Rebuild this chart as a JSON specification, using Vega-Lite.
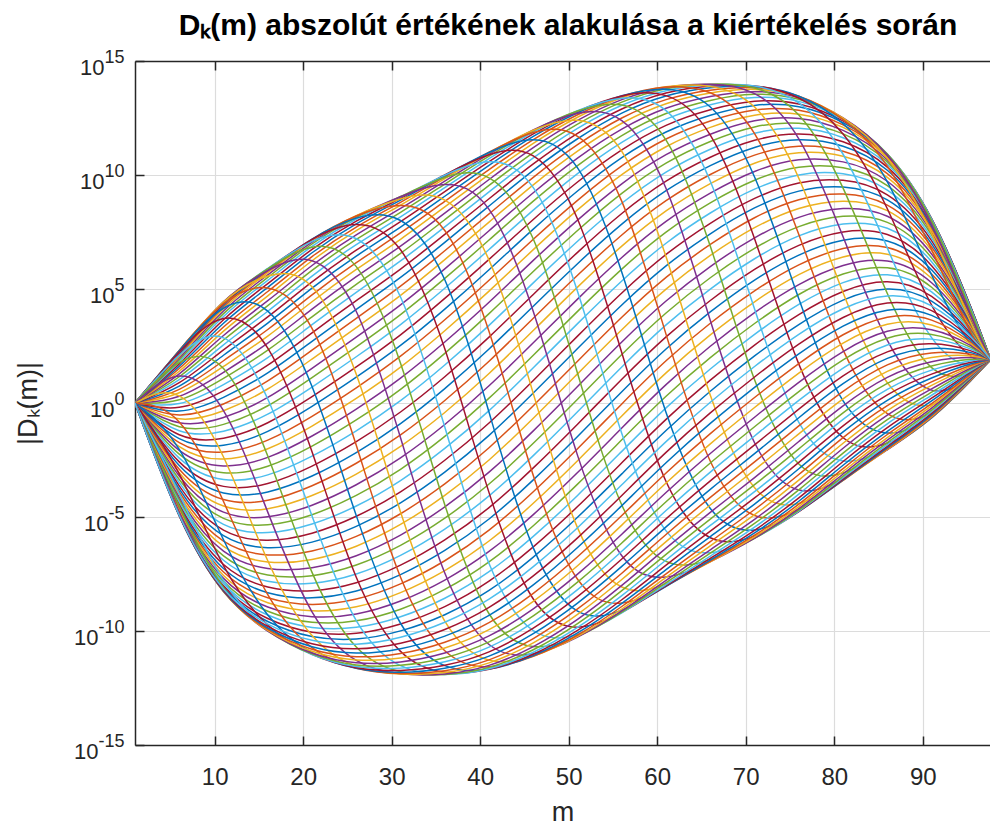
{
"$schema": "https://vega.github.io/schema/vega-lite/v6.json",
"width": 855,
"height": 684,
"autosize": {"type": "none"},
"padding": {"left": 135, "top": 61, "right": 0, "bottom": 82},
"background": "#ffffff",
"config": {"view": {"stroke": null}, "axis": {"labelFont": "Liberation Sans", "titleFont": "Liberation Sans"}},
"layer": [
{
"data": {"values": [
{"k":0,"m":1,"logD":0},{"k":1,"m":1,"logD":0},{"k":2,"m":1,"logD":0},{"k":3,"m":1,"logD":0},{"k":4,"m":1,"logD":0},{"k":5,"m":1,"logD":0},{"k":6,"m":1,"logD":0},{"k":7,"m":1,"logD":0},{"k":8,"m":1,"logD":0},{"k":9,"m":1,"logD":0},{"k":10,"m":1,"logD":0},{"k":11,"m":1,"logD":0},{"k":12,"m":1,"logD":0},{"k":13,"m":1,"logD":0},{"k":14,"m":1,"logD":0},{"k":15,"m":1,"logD":0},{"k":16,"m":1,"logD":0},{"k":17,"m":1,"logD":0},{"k":18,"m":1,"logD":0},{"k":19,"m":1,"logD":0},{"k":20,"m":1,"logD":0},{"k":21,"m":1,"logD":0},{"k":22,"m":1,"logD":0},{"k":23,"m":1,"logD":0},{"k":24,"m":1,"logD":0},{"k":25,"m":1,"logD":0},{"k":26,"m":1,"logD":0},{"k":27,"m":1,"logD":0},{"k":28,"m":1,"logD":0},{"k":29,"m":1,"logD":0},{"k":30,"m":1,"logD":0},{"k":31,"m":1,"logD":0},{"k":32,"m":1,"logD":0},{"k":33,"m":1,"logD":0},{"k":34,"m":1,"logD":0},{"k":35,"m":1,"logD":0},{"k":36,"m":1,"logD":0},{"k":37,"m":1,"logD":0},{"k":38,"m":1,"logD":0},{"k":39,"m":1,"logD":0},{"k":40,"m":1,"logD":0},{"k":41,"m":1,"logD":0},{"k":42,"m":1,"logD":0},{"k":43,"m":1,"logD":0},{"k":44,"m":1,"logD":0},{"k":45,"m":1,"logD":0},{"k":46,"m":1,"logD":0},{"k":47,"m":1,"logD":0},{"k":48,"m":1,"logD":0},{"k":49,"m":1,"logD":0},{"k":50,"m":1,"logD":0},{"k":51,"m":1,"logD":0},{"k":52,"m":1,"logD":0},{"k":53,"m":1,"logD":0},{"k":54,"m":1,"logD":0},{"k":55,"m":1,"logD":0},{"k":56,"m":1,"logD":0},{"k":57,"m":1,"logD":0},{"k":58,"m":1,"logD":0},{"k":59,"m":1,"logD":0},{"k":60,"m":1,"logD":0},{"k":61,"m":1,"logD":0},{"k":62,"m":1,"logD":0},{"k":63,"m":1,"logD":0},{"k":64,"m":1,"logD":0},{"k":65,"m":1,"logD":0},{"k":66,"m":1,"logD":0},{"k":67,"m":1,"logD":0},{"k":68,"m":1,"logD":0},{"k":69,"m":1,"logD":0},{"k":70,"m":1,"logD":0},{"k":71,"m":1,"logD":0},{"k":72,"m":1,"logD":0},{"k":73,"m":1,"logD":0},{"k":74,"m":1,"logD":0},{"k":75,"m":1,"logD":0},{"k":76,"m":1,"logD":0},{"k":77,"m":1,"logD":0},{"k":78,"m":1,"logD":0},{"k":79,"m":1,"logD":0},
{"k":78,"m":6,"logD":-5.28},{"k":79,"m":6,"logD":-5.27},{"k":0,"m":6,"logD":-5.25},{"k":1,"m":6,"logD":-5.22},{"k":2,"m":6,"logD":-5.19},{"k":3,"m":6,"logD":-5.14},{"k":4,"m":6,"logD":-5.09},{"k":5,"m":6,"logD":-5.03},{"k":6,"m":6,"logD":-4.96},{"k":7,"m":6,"logD":-4.88},{"k":8,"m":6,"logD":-4.79},{"k":9,"m":6,"logD":-4.70},{"k":10,"m":6,"logD":-4.60},{"k":11,"m":6,"logD":-4.49},{"k":12,"m":6,"logD":-4.38},{"k":13,"m":6,"logD":-4.25},{"k":14,"m":6,"logD":-4.13},{"k":15,"m":6,"logD":-3.99},{"k":16,"m":6,"logD":-3.85},{"k":17,"m":6,"logD":-3.71},{"k":18,"m":6,"logD":-3.55},{"k":19,"m":6,"logD":-3.40},{"k":20,"m":6,"logD":-3.24},{"k":21,"m":6,"logD":-3.08},{"k":22,"m":6,"logD":-2.91},{"k":23,"m":6,"logD":-2.74},{"k":24,"m":6,"logD":-2.56},{"k":25,"m":6,"logD":-2.39},{"k":26,"m":6,"logD":-2.21},{"k":27,"m":6,"logD":-2.03},{"k":28,"m":6,"logD":-1.85},{"k":29,"m":6,"logD":-1.67},{"k":30,"m":6,"logD":-1.49},{"k":31,"m":6,"logD":-1.30},{"k":32,"m":6,"logD":-1.12},{"k":33,"m":6,"logD":-0.94},{"k":34,"m":6,"logD":-0.76},{"k":35,"m":6,"logD":-0.58},{"k":36,"m":6,"logD":-0.41},{"k":37,"m":6,"logD":-0.23},{"k":38,"m":6,"logD":-0.06},{"k":39,"m":6,"logD":0.11},{"k":40,"m":6,"logD":0.27},{"k":41,"m":6,"logD":0.43},{"k":42,"m":6,"logD":0.58},{"k":43,"m":6,"logD":0.74},{"k":44,"m":6,"logD":0.88},{"k":45,"m":6,"logD":1.02},{"k":46,"m":6,"logD":1.16},{"k":47,"m":6,"logD":1.28},{"k":48,"m":6,"logD":1.41},{"k":49,"m":6,"logD":1.52},{"k":50,"m":6,"logD":1.63},{"k":51,"m":6,"logD":1.73},{"k":52,"m":6,"logD":1.82},{"k":53,"m":6,"logD":1.91},{"k":54,"m":6,"logD":1.99},{"k":55,"m":6,"logD":2.06},{"k":56,"m":6,"logD":2.12},{"k":57,"m":6,"logD":2.17},{"k":58,"m":6,"logD":2.22},{"k":59,"m":6,"logD":2.25},{"k":60,"m":6,"logD":2.28},{"k":61,"m":6,"logD":2.30},{"k":62,"m":6,"logD":2.31},{"k":63,"m":6,"logD":2.32},{"k":64,"m":6,"logD":2.30},{"k":65,"m":6,"logD":2.25},{"k":66,"m":6,"logD":2.09},{"k":67,"m":6,"logD":1.70},{"k":68,"m":6,"logD":0.96},{"k":69,"m":6,"logD":-0.19},{"k":70,"m":6,"logD":-1.49},{"k":71,"m":6,"logD":-2.79},{"k":72,"m":6,"logD":-3.93},{"k":73,"m":6,"logD":-4.67},{"k":74,"m":6,"logD":-5.06},{"k":75,"m":6,"logD":-5.22},{"k":76,"m":6,"logD":-5.27},{"k":77,"m":6,"logD":-5.29},
{"k":76,"m":11,"logD":-8.57},{"k":77,"m":11,"logD":-8.55},{"k":78,"m":11,"logD":-8.52},{"k":79,"m":11,"logD":-8.47},{"k":0,"m":11,"logD":-8.41},{"k":1,"m":11,"logD":-8.33},{"k":2,"m":11,"logD":-8.23},{"k":3,"m":11,"logD":-8.13},{"k":4,"m":11,"logD":-8.00},{"k":5,"m":11,"logD":-7.87},{"k":6,"m":11,"logD":-7.72},{"k":7,"m":11,"logD":-7.56},{"k":8,"m":11,"logD":-7.38},{"k":9,"m":11,"logD":-7.19},{"k":10,"m":11,"logD":-6.99},{"k":11,"m":11,"logD":-6.78},{"k":12,"m":11,"logD":-6.56},{"k":13,"m":11,"logD":-6.33},{"k":14,"m":11,"logD":-6.08},{"k":15,"m":11,"logD":-5.83},{"k":16,"m":11,"logD":-5.57},{"k":17,"m":11,"logD":-5.30},{"k":18,"m":11,"logD":-5.02},{"k":19,"m":11,"logD":-4.74},{"k":20,"m":11,"logD":-4.45},{"k":21,"m":11,"logD":-4.15},{"k":22,"m":11,"logD":-3.85},{"k":23,"m":11,"logD":-3.54},{"k":24,"m":11,"logD":-3.23},{"k":25,"m":11,"logD":-2.92},{"k":26,"m":11,"logD":-2.61},{"k":27,"m":11,"logD":-2.29},{"k":28,"m":11,"logD":-1.98},{"k":29,"m":11,"logD":-1.66},{"k":30,"m":11,"logD":-1.34},{"k":31,"m":11,"logD":-1.03},{"k":32,"m":11,"logD":-0.72},{"k":33,"m":11,"logD":-0.41},{"k":34,"m":11,"logD":-0.10},{"k":35,"m":11,"logD":0.20},{"k":36,"m":11,"logD":0.50},{"k":37,"m":11,"logD":0.79},{"k":38,"m":11,"logD":1.07},{"k":39,"m":11,"logD":1.35},{"k":40,"m":11,"logD":1.62},{"k":41,"m":11,"logD":1.88},{"k":42,"m":11,"logD":2.13},{"k":43,"m":11,"logD":2.38},{"k":44,"m":11,"logD":2.61},{"k":45,"m":11,"logD":2.83},{"k":46,"m":11,"logD":3.04},{"k":47,"m":11,"logD":3.24},{"k":48,"m":11,"logD":3.43},{"k":49,"m":11,"logD":3.61},{"k":50,"m":11,"logD":3.77},{"k":51,"m":11,"logD":3.92},{"k":52,"m":11,"logD":4.05},{"k":53,"m":11,"logD":4.18},{"k":54,"m":11,"logD":4.28},{"k":55,"m":11,"logD":4.38},{"k":56,"m":11,"logD":4.46},{"k":57,"m":11,"logD":4.52},{"k":58,"m":11,"logD":4.57},{"k":59,"m":11,"logD":4.60},{"k":60,"m":11,"logD":4.62},{"k":61,"m":11,"logD":4.63},{"k":62,"m":11,"logD":4.60},{"k":63,"m":11,"logD":4.50},{"k":64,"m":11,"logD":4.23},{"k":65,"m":11,"logD":3.56},{"k":66,"m":11,"logD":2.27},{"k":67,"m":11,"logD":0.28},{"k":68,"m":11,"logD":-1.98},{"k":69,"m":11,"logD":-4.23},{"k":70,"m":11,"logD":-6.22},{"k":71,"m":11,"logD":-7.51},{"k":72,"m":11,"logD":-8.18},{"k":73,"m":11,"logD":-8.45},{"k":74,"m":11,"logD":-8.55},{"k":75,"m":11,"logD":-8.58},
{"k":74,"m":16,"logD":-10.10},{"k":75,"m":16,"logD":-10.07},{"k":76,"m":16,"logD":-10.03},{"k":77,"m":16,"logD":-9.97},{"k":78,"m":16,"logD":-9.90},{"k":79,"m":16,"logD":-9.80},{"k":0,"m":16,"logD":-9.69},{"k":1,"m":16,"logD":-9.56},{"k":2,"m":16,"logD":-9.41},{"k":3,"m":16,"logD":-9.24},{"k":4,"m":16,"logD":-9.06},{"k":5,"m":16,"logD":-8.87},{"k":6,"m":16,"logD":-8.65},{"k":7,"m":16,"logD":-8.43},{"k":8,"m":16,"logD":-8.18},{"k":9,"m":16,"logD":-7.93},{"k":10,"m":16,"logD":-7.66},{"k":11,"m":16,"logD":-7.37},{"k":12,"m":16,"logD":-7.08},{"k":13,"m":16,"logD":-6.77},{"k":14,"m":16,"logD":-6.46},{"k":15,"m":16,"logD":-6.13},{"k":16,"m":16,"logD":-5.79},{"k":17,"m":16,"logD":-5.45},{"k":18,"m":16,"logD":-5.10},{"k":19,"m":16,"logD":-4.74},{"k":20,"m":16,"logD":-4.37},{"k":21,"m":16,"logD":-4.00},{"k":22,"m":16,"logD":-3.63},{"k":23,"m":16,"logD":-3.25},{"k":24,"m":16,"logD":-2.87},{"k":25,"m":16,"logD":-2.48},{"k":26,"m":16,"logD":-2.10},{"k":27,"m":16,"logD":-1.72},{"k":28,"m":16,"logD":-1.33},{"k":29,"m":16,"logD":-0.95},{"k":30,"m":16,"logD":-0.57},{"k":31,"m":16,"logD":-0.20},{"k":32,"m":16,"logD":0.17},{"k":33,"m":16,"logD":0.54},{"k":34,"m":16,"logD":0.90},{"k":35,"m":16,"logD":1.25},{"k":36,"m":16,"logD":1.59},{"k":37,"m":16,"logD":1.93},{"k":38,"m":16,"logD":2.26},{"k":39,"m":16,"logD":2.57},{"k":40,"m":16,"logD":2.88},{"k":41,"m":16,"logD":3.17},{"k":42,"m":16,"logD":3.46},{"k":43,"m":16,"logD":3.73},{"k":44,"m":16,"logD":3.98},{"k":45,"m":16,"logD":4.23},{"k":46,"m":16,"logD":4.45},{"k":47,"m":16,"logD":4.67},{"k":48,"m":16,"logD":4.86},{"k":49,"m":16,"logD":5.04},{"k":50,"m":16,"logD":5.21},{"k":51,"m":16,"logD":5.36},{"k":52,"m":16,"logD":5.49},{"k":53,"m":16,"logD":5.60},{"k":54,"m":16,"logD":5.70},{"k":55,"m":16,"logD":5.77},{"k":56,"m":16,"logD":5.83},{"k":57,"m":16,"logD":5.87},{"k":58,"m":16,"logD":5.90},{"k":59,"m":16,"logD":5.90},{"k":60,"m":16,"logD":5.87},{"k":61,"m":16,"logD":5.75},{"k":62,"m":16,"logD":5.42},{"k":63,"m":16,"logD":4.61},{"k":64,"m":16,"logD":3.04},{"k":65,"m":16,"logD":0.64},{"k":66,"m":16,"logD":-2.10},{"k":67,"m":16,"logD":-4.84},{"k":68,"m":16,"logD":-7.24},{"k":69,"m":16,"logD":-8.81},{"k":70,"m":16,"logD":-9.62},{"k":71,"m":16,"logD":-9.95},{"k":72,"m":16,"logD":-10.07},{"k":73,"m":16,"logD":-10.10},
{"k":72,"m":21,"logD":-11.12},{"k":73,"m":21,"logD":-11.09},{"k":74,"m":21,"logD":-11.05},{"k":75,"m":21,"logD":-10.98},{"k":76,"m":21,"logD":-10.89},{"k":77,"m":21,"logD":-10.78},{"k":78,"m":21,"logD":-10.65},{"k":79,"m":21,"logD":-10.50},{"k":0,"m":21,"logD":-10.33},{"k":1,"m":21,"logD":-10.14},{"k":2,"m":21,"logD":-9.93},{"k":3,"m":21,"logD":-9.71},{"k":4,"m":21,"logD":-9.46},{"k":5,"m":21,"logD":-9.20},{"k":6,"m":21,"logD":-8.92},{"k":7,"m":21,"logD":-8.63},{"k":8,"m":21,"logD":-8.32},{"k":9,"m":21,"logD":-7.99},{"k":10,"m":21,"logD":-7.65},{"k":11,"m":21,"logD":-7.30},{"k":12,"m":21,"logD":-6.94},{"k":13,"m":21,"logD":-6.56},{"k":14,"m":21,"logD":-6.17},{"k":15,"m":21,"logD":-5.78},{"k":16,"m":21,"logD":-5.37},{"k":17,"m":21,"logD":-4.96},{"k":18,"m":21,"logD":-4.54},{"k":19,"m":21,"logD":-4.11},{"k":20,"m":21,"logD":-3.68},{"k":21,"m":21,"logD":-3.25},{"k":22,"m":21,"logD":-2.81},{"k":23,"m":21,"logD":-2.37},{"k":24,"m":21,"logD":-1.93},{"k":25,"m":21,"logD":-1.48},{"k":26,"m":21,"logD":-1.04},{"k":27,"m":21,"logD":-0.61},{"k":28,"m":21,"logD":-0.17},{"k":29,"m":21,"logD":0.26},{"k":30,"m":21,"logD":0.69},{"k":31,"m":21,"logD":1.11},{"k":32,"m":21,"logD":1.52},{"k":33,"m":21,"logD":1.93},{"k":34,"m":21,"logD":2.32},{"k":35,"m":21,"logD":2.71},{"k":36,"m":21,"logD":3.09},{"k":37,"m":21,"logD":3.45},{"k":38,"m":21,"logD":3.80},{"k":39,"m":21,"logD":4.14},{"k":40,"m":21,"logD":4.47},{"k":41,"m":21,"logD":4.78},{"k":42,"m":21,"logD":5.07},{"k":43,"m":21,"logD":5.35},{"k":44,"m":21,"logD":5.61},{"k":45,"m":21,"logD":5.86},{"k":46,"m":21,"logD":6.08},{"k":47,"m":21,"logD":6.29},{"k":48,"m":21,"logD":6.48},{"k":49,"m":21,"logD":6.65},{"k":50,"m":21,"logD":6.80},{"k":51,"m":21,"logD":6.93},{"k":52,"m":21,"logD":7.04},{"k":53,"m":21,"logD":7.13},{"k":54,"m":21,"logD":7.20},{"k":55,"m":21,"logD":7.24},{"k":56,"m":21,"logD":7.27},{"k":57,"m":21,"logD":7.28},{"k":58,"m":21,"logD":7.24},{"k":59,"m":21,"logD":7.11},{"k":60,"m":21,"logD":6.72},{"k":61,"m":21,"logD":5.79},{"k":62,"m":21,"logD":3.99},{"k":63,"m":21,"logD":1.22},{"k":64,"m":21,"logD":-1.93},{"k":65,"m":21,"logD":-5.07},{"k":66,"m":21,"logD":-7.84},{"k":67,"m":21,"logD":-9.64},{"k":68,"m":21,"logD":-10.57},{"k":69,"m":21,"logD":-10.96},{"k":70,"m":21,"logD":-11.09},{"k":71,"m":21,"logD":-11.13},
{"k":70,"m":26,"logD":-11.72},{"k":71,"m":26,"logD":-11.69},{"k":72,"m":26,"logD":-11.64},{"k":73,"m":26,"logD":-11.57},{"k":74,"m":26,"logD":-11.47},{"k":75,"m":26,"logD":-11.35},{"k":76,"m":26,"logD":-11.21},{"k":77,"m":26,"logD":-11.05},{"k":78,"m":26,"logD":-10.86},{"k":79,"m":26,"logD":-10.66},{"k":0,"m":26,"logD":-10.43},{"k":1,"m":26,"logD":-10.18},{"k":2,"m":26,"logD":-9.92},{"k":3,"m":26,"logD":-9.63},{"k":4,"m":26,"logD":-9.33},{"k":5,"m":26,"logD":-9.01},{"k":6,"m":26,"logD":-8.67},{"k":7,"m":26,"logD":-8.32},{"k":8,"m":26,"logD":-7.95},{"k":9,"m":26,"logD":-7.57},{"k":10,"m":26,"logD":-7.17},{"k":11,"m":26,"logD":-6.76},{"k":12,"m":26,"logD":-6.34},{"k":13,"m":26,"logD":-5.91},{"k":14,"m":26,"logD":-5.47},{"k":15,"m":26,"logD":-5.02},{"k":16,"m":26,"logD":-4.57},{"k":17,"m":26,"logD":-4.10},{"k":18,"m":26,"logD":-3.63},{"k":19,"m":26,"logD":-3.16},{"k":20,"m":26,"logD":-2.68},{"k":21,"m":26,"logD":-2.21},{"k":22,"m":26,"logD":-1.73},{"k":23,"m":26,"logD":-1.25},{"k":24,"m":26,"logD":-0.77},{"k":25,"m":26,"logD":-0.29},{"k":26,"m":26,"logD":0.18},{"k":27,"m":26,"logD":0.65},{"k":28,"m":26,"logD":1.12},{"k":29,"m":26,"logD":1.57},{"k":30,"m":26,"logD":2.02},{"k":31,"m":26,"logD":2.46},{"k":32,"m":26,"logD":2.89},{"k":33,"m":26,"logD":3.31},{"k":34,"m":26,"logD":3.72},{"k":35,"m":26,"logD":4.12},{"k":36,"m":26,"logD":4.50},{"k":37,"m":26,"logD":4.87},{"k":38,"m":26,"logD":5.22},{"k":39,"m":26,"logD":5.56},{"k":40,"m":26,"logD":5.88},{"k":41,"m":26,"logD":6.18},{"k":42,"m":26,"logD":6.47},{"k":43,"m":26,"logD":6.73},{"k":44,"m":26,"logD":6.98},{"k":45,"m":26,"logD":7.21},{"k":46,"m":26,"logD":7.41},{"k":47,"m":26,"logD":7.60},{"k":48,"m":26,"logD":7.76},{"k":49,"m":26,"logD":7.90},{"k":50,"m":26,"logD":8.02},{"k":51,"m":26,"logD":8.12},{"k":52,"m":26,"logD":8.19},{"k":53,"m":26,"logD":8.24},{"k":54,"m":26,"logD":8.27},{"k":55,"m":26,"logD":8.28},{"k":56,"m":26,"logD":8.24},{"k":57,"m":26,"logD":8.09},{"k":58,"m":26,"logD":7.67},{"k":59,"m":26,"logD":6.66},{"k":60,"m":26,"logD":4.70},{"k":61,"m":26,"logD":1.70},{"k":62,"m":26,"logD":-1.73},{"k":63,"m":26,"logD":-5.15},{"k":64,"m":26,"logD":-8.15},{"k":65,"m":26,"logD":-10.11},{"k":66,"m":26,"logD":-11.12},{"k":67,"m":26,"logD":-11.54},{"k":68,"m":26,"logD":-11.69},{"k":69,"m":26,"logD":-11.73},
{"k":68,"m":31,"logD":-11.94},{"k":69,"m":31,"logD":-11.91},{"k":70,"m":31,"logD":-11.86},{"k":71,"m":31,"logD":-11.78},{"k":72,"m":31,"logD":-11.68},{"k":73,"m":31,"logD":-11.56},{"k":74,"m":31,"logD":-11.41},{"k":75,"m":31,"logD":-11.24},{"k":76,"m":31,"logD":-11.04},{"k":77,"m":31,"logD":-10.83},{"k":78,"m":31,"logD":-10.59},{"k":79,"m":31,"logD":-10.33},{"k":0,"m":31,"logD":-10.05},{"k":1,"m":31,"logD":-9.75},{"k":2,"m":31,"logD":-9.43},{"k":3,"m":31,"logD":-9.10},{"k":4,"m":31,"logD":-8.74},{"k":5,"m":31,"logD":-8.37},{"k":6,"m":31,"logD":-7.99},{"k":7,"m":31,"logD":-7.58},{"k":8,"m":31,"logD":-7.17},{"k":9,"m":31,"logD":-6.74},{"k":10,"m":31,"logD":-6.30},{"k":11,"m":31,"logD":-5.85},{"k":12,"m":31,"logD":-5.38},{"k":13,"m":31,"logD":-4.91},{"k":14,"m":31,"logD":-4.43},{"k":15,"m":31,"logD":-3.95},{"k":16,"m":31,"logD":-3.45},{"k":17,"m":31,"logD":-2.96},{"k":18,"m":31,"logD":-2.46},{"k":19,"m":31,"logD":-1.95},{"k":20,"m":31,"logD":-1.45},{"k":21,"m":31,"logD":-0.95},{"k":22,"m":31,"logD":-0.44},{"k":23,"m":31,"logD":0.06},{"k":24,"m":31,"logD":0.55},{"k":25,"m":31,"logD":1.05},{"k":26,"m":31,"logD":1.53},{"k":27,"m":31,"logD":2.01},{"k":28,"m":31,"logD":2.48},{"k":29,"m":31,"logD":2.95},{"k":30,"m":31,"logD":3.40},{"k":31,"m":31,"logD":3.84},{"k":32,"m":31,"logD":4.27},{"k":33,"m":31,"logD":4.68},{"k":34,"m":31,"logD":5.09},{"k":35,"m":31,"logD":5.47},{"k":36,"m":31,"logD":5.84},{"k":37,"m":31,"logD":6.20},{"k":38,"m":31,"logD":6.53},{"k":39,"m":31,"logD":6.85},{"k":40,"m":31,"logD":7.15},{"k":41,"m":31,"logD":7.43},{"k":42,"m":31,"logD":7.69},{"k":43,"m":31,"logD":7.93},{"k":44,"m":31,"logD":8.14},{"k":45,"m":31,"logD":8.34},{"k":46,"m":31,"logD":8.51},{"k":47,"m":31,"logD":8.66},{"k":48,"m":31,"logD":8.78},{"k":49,"m":31,"logD":8.88},{"k":50,"m":31,"logD":8.96},{"k":51,"m":31,"logD":9.01},{"k":52,"m":31,"logD":9.04},{"k":53,"m":31,"logD":9.05},{"k":54,"m":31,"logD":9.01},{"k":55,"m":31,"logD":8.86},{"k":56,"m":31,"logD":8.42},{"k":57,"m":31,"logD":7.36},{"k":58,"m":31,"logD":5.30},{"k":59,"m":31,"logD":2.14},{"k":60,"m":31,"logD":-1.45},{"k":61,"m":31,"logD":-5.04},{"k":62,"m":31,"logD":-8.20},{"k":63,"m":31,"logD":-10.26},{"k":64,"m":31,"logD":-11.32},{"k":65,"m":31,"logD":-11.76},{"k":66,"m":31,"logD":-11.91},{"k":67,"m":31,"logD":-11.95},
{"k":66,"m":36,"logD":-11.97},{"k":67,"m":36,"logD":-11.94},{"k":68,"m":36,"logD":-11.88},{"k":69,"m":36,"logD":-11.80},{"k":70,"m":36,"logD":-11.69},{"k":71,"m":36,"logD":-11.56},{"k":72,"m":36,"logD":-11.41},{"k":73,"m":36,"logD":-11.23},{"k":74,"m":36,"logD":-11.02},{"k":75,"m":36,"logD":-10.80},{"k":76,"m":36,"logD":-10.55},{"k":77,"m":36,"logD":-10.28},{"k":78,"m":36,"logD":-9.99},{"k":79,"m":36,"logD":-9.67},{"k":0,"m":36,"logD":-9.34},{"k":1,"m":36,"logD":-8.99},{"k":2,"m":36,"logD":-8.62},{"k":3,"m":36,"logD":-8.23},{"k":4,"m":36,"logD":-7.82},{"k":5,"m":36,"logD":-7.40},{"k":6,"m":36,"logD":-6.97},{"k":7,"m":36,"logD":-6.52},{"k":8,"m":36,"logD":-6.05},{"k":9,"m":36,"logD":-5.58},{"k":10,"m":36,"logD":-5.10},{"k":11,"m":36,"logD":-4.60},{"k":12,"m":36,"logD":-4.10},{"k":13,"m":36,"logD":-3.59},{"k":14,"m":36,"logD":-3.07},{"k":15,"m":36,"logD":-2.55},{"k":16,"m":36,"logD":-2.03},{"k":17,"m":36,"logD":-1.50},{"k":18,"m":36,"logD":-0.98},{"k":19,"m":36,"logD":-0.45},{"k":20,"m":36,"logD":0.08},{"k":21,"m":36,"logD":0.60},{"k":22,"m":36,"logD":1.12},{"k":23,"m":36,"logD":1.64},{"k":24,"m":36,"logD":2.15},{"k":25,"m":36,"logD":2.65},{"k":26,"m":36,"logD":3.15},{"k":27,"m":36,"logD":3.63},{"k":28,"m":36,"logD":4.10},{"k":29,"m":36,"logD":4.57},{"k":30,"m":36,"logD":5.02},{"k":31,"m":36,"logD":5.45},{"k":32,"m":36,"logD":5.87},{"k":33,"m":36,"logD":6.28},{"k":34,"m":36,"logD":6.67},{"k":35,"m":36,"logD":7.04},{"k":36,"m":36,"logD":7.39},{"k":37,"m":36,"logD":7.72},{"k":38,"m":36,"logD":8.04},{"k":39,"m":36,"logD":8.33},{"k":40,"m":36,"logD":8.60},{"k":41,"m":36,"logD":8.85},{"k":42,"m":36,"logD":9.07},{"k":43,"m":36,"logD":9.28},{"k":44,"m":36,"logD":9.46},{"k":45,"m":36,"logD":9.61},{"k":46,"m":36,"logD":9.74},{"k":47,"m":36,"logD":9.85},{"k":48,"m":36,"logD":9.93},{"k":49,"m":36,"logD":9.99},{"k":50,"m":36,"logD":10.02},{"k":51,"m":36,"logD":10.03},{"k":52,"m":36,"logD":9.99},{"k":53,"m":36,"logD":9.82},{"k":54,"m":36,"logD":9.36},{"k":55,"m":36,"logD":8.25},{"k":56,"m":36,"logD":6.10},{"k":57,"m":36,"logD":2.79},{"k":58,"m":36,"logD":-0.98},{"k":59,"m":36,"logD":-4.74},{"k":60,"m":36,"logD":-8.05},{"k":61,"m":36,"logD":-10.20},{"k":62,"m":36,"logD":-11.31},{"k":63,"m":36,"logD":-11.77},{"k":64,"m":36,"logD":-11.94},{"k":65,"m":36,"logD":-11.98},
{"k":64,"m":41,"logD":-11.77},{"k":65,"m":41,"logD":-11.74},{"k":66,"m":41,"logD":-11.68},{"k":67,"m":41,"logD":-11.59},{"k":68,"m":41,"logD":-11.48},{"k":69,"m":41,"logD":-11.35},{"k":70,"m":41,"logD":-11.19},{"k":71,"m":41,"logD":-11.00},{"k":72,"m":41,"logD":-10.79},{"k":73,"m":41,"logD":-10.56},{"k":74,"m":41,"logD":-10.30},{"k":75,"m":41,"logD":-10.02},{"k":76,"m":41,"logD":-9.71},{"k":77,"m":41,"logD":-9.39},{"k":78,"m":41,"logD":-9.04},{"k":79,"m":41,"logD":-8.68},{"k":0,"m":41,"logD":-8.30},{"k":1,"m":41,"logD":-7.89},{"k":2,"m":41,"logD":-7.47},{"k":3,"m":41,"logD":-7.04},{"k":4,"m":41,"logD":-6.58},{"k":5,"m":41,"logD":-6.12},{"k":6,"m":41,"logD":-5.64},{"k":7,"m":41,"logD":-5.15},{"k":8,"m":41,"logD":-4.65},{"k":9,"m":41,"logD":-4.13},{"k":10,"m":41,"logD":-3.61},{"k":11,"m":41,"logD":-3.09},{"k":12,"m":41,"logD":-2.55},{"k":13,"m":41,"logD":-2.01},{"k":14,"m":41,"logD":-1.47},{"k":15,"m":41,"logD":-0.92},{"k":16,"m":41,"logD":-0.38},{"k":17,"m":41,"logD":0.17},{"k":18,"m":41,"logD":0.72},{"k":19,"m":41,"logD":1.26},{"k":20,"m":41,"logD":1.80},{"k":21,"m":41,"logD":2.34},{"k":22,"m":41,"logD":2.86},{"k":23,"m":41,"logD":3.38},{"k":24,"m":41,"logD":3.90},{"k":25,"m":41,"logD":4.40},{"k":26,"m":41,"logD":4.89},{"k":27,"m":41,"logD":5.37},{"k":28,"m":41,"logD":5.83},{"k":29,"m":41,"logD":6.29},{"k":30,"m":41,"logD":6.72},{"k":31,"m":41,"logD":7.14},{"k":32,"m":41,"logD":7.55},{"k":33,"m":41,"logD":7.93},{"k":34,"m":41,"logD":8.29},{"k":35,"m":41,"logD":8.64},{"k":36,"m":41,"logD":8.96},{"k":37,"m":41,"logD":9.27},{"k":38,"m":41,"logD":9.55},{"k":39,"m":41,"logD":9.81},{"k":40,"m":41,"logD":10.04},{"k":41,"m":41,"logD":10.25},{"k":42,"m":41,"logD":10.44},{"k":43,"m":41,"logD":10.60},{"k":44,"m":41,"logD":10.73},{"k":45,"m":41,"logD":10.84},{"k":46,"m":41,"logD":10.93},{"k":47,"m":41,"logD":10.99},{"k":48,"m":41,"logD":11.02},{"k":49,"m":41,"logD":11.03},{"k":50,"m":41,"logD":10.99},{"k":51,"m":41,"logD":10.82},{"k":52,"m":41,"logD":10.34},{"k":53,"m":41,"logD":9.19},{"k":54,"m":41,"logD":6.95},{"k":55,"m":41,"logD":3.52},{"k":56,"m":41,"logD":-0.38},{"k":57,"m":41,"logD":-4.27},{"k":58,"m":41,"logD":-7.70},{"k":59,"m":41,"logD":-9.94},{"k":60,"m":41,"logD":-11.09},{"k":61,"m":41,"logD":-11.57},{"k":62,"m":41,"logD":-11.74},{"k":63,"m":41,"logD":-11.78},
{"k":62,"m":46,"logD":-11.17},{"k":63,"m":46,"logD":-11.14},{"k":64,"m":46,"logD":-11.08},{"k":65,"m":46,"logD":-10.99},{"k":66,"m":46,"logD":-10.88},{"k":67,"m":46,"logD":-10.74},{"k":68,"m":46,"logD":-10.58},{"k":69,"m":46,"logD":-10.39},{"k":70,"m":46,"logD":-10.17},{"k":71,"m":46,"logD":-9.93},{"k":72,"m":46,"logD":-9.67},{"k":73,"m":46,"logD":-9.39},{"k":74,"m":46,"logD":-9.08},{"k":75,"m":46,"logD":-8.75},{"k":76,"m":46,"logD":-8.40},{"k":77,"m":46,"logD":-8.03},{"k":78,"m":46,"logD":-7.63},{"k":79,"m":46,"logD":-7.22},{"k":0,"m":46,"logD":-6.80},{"k":1,"m":46,"logD":-6.35},{"k":2,"m":46,"logD":-5.89},{"k":3,"m":46,"logD":-5.42},{"k":4,"m":46,"logD":-4.93},{"k":5,"m":46,"logD":-4.43},{"k":6,"m":46,"logD":-3.92},{"k":7,"m":46,"logD":-3.40},{"k":8,"m":46,"logD":-2.87},{"k":9,"m":46,"logD":-2.33},{"k":10,"m":46,"logD":-1.79},{"k":11,"m":46,"logD":-1.24},{"k":12,"m":46,"logD":-0.69},{"k":13,"m":46,"logD":-0.13},{"k":14,"m":46,"logD":0.43},{"k":15,"m":46,"logD":0.98},{"k":16,"m":46,"logD":1.54},{"k":17,"m":46,"logD":2.09},{"k":18,"m":46,"logD":2.64},{"k":19,"m":46,"logD":3.18},{"k":20,"m":46,"logD":3.72},{"k":21,"m":46,"logD":4.25},{"k":22,"m":46,"logD":4.77},{"k":23,"m":46,"logD":5.28},{"k":24,"m":46,"logD":5.78},{"k":25,"m":46,"logD":6.27},{"k":26,"m":46,"logD":6.74},{"k":27,"m":46,"logD":7.20},{"k":28,"m":46,"logD":7.65},{"k":29,"m":46,"logD":8.07},{"k":30,"m":46,"logD":8.48},{"k":31,"m":46,"logD":8.88},{"k":32,"m":46,"logD":9.25},{"k":33,"m":46,"logD":9.60},{"k":34,"m":46,"logD":9.93},{"k":35,"m":46,"logD":10.24},{"k":36,"m":46,"logD":10.52},{"k":37,"m":46,"logD":10.78},{"k":38,"m":46,"logD":11.02},{"k":39,"m":46,"logD":11.24},{"k":40,"m":46,"logD":11.43},{"k":41,"m":46,"logD":11.59},{"k":42,"m":46,"logD":11.73},{"k":43,"m":46,"logD":11.84},{"k":44,"m":46,"logD":11.93},{"k":45,"m":46,"logD":11.99},{"k":46,"m":46,"logD":12.02},{"k":47,"m":46,"logD":12.03},{"k":48,"m":46,"logD":11.99},{"k":49,"m":46,"logD":11.81},{"k":50,"m":46,"logD":11.33},{"k":51,"m":46,"logD":10.15},{"k":52,"m":46,"logD":7.88},{"k":53,"m":46,"logD":4.39},{"k":54,"m":46,"logD":0.43},{"k":55,"m":46,"logD":-3.54},{"k":56,"m":46,"logD":-7.03},{"k":57,"m":46,"logD":-9.30},{"k":58,"m":46,"logD":-10.48},{"k":59,"m":46,"logD":-10.96},{"k":60,"m":46,"logD":-11.14},{"k":61,"m":46,"logD":-11.18},
{"k":60,"m":51,"logD":-10.32},{"k":61,"m":51,"logD":-10.29},{"k":62,"m":51,"logD":-10.23},{"k":63,"m":51,"logD":-10.14},{"k":64,"m":51,"logD":-10.03},{"k":65,"m":51,"logD":-9.89},{"k":66,"m":51,"logD":-9.73},{"k":67,"m":51,"logD":-9.54},{"k":68,"m":51,"logD":-9.32},{"k":69,"m":51,"logD":-9.08},{"k":70,"m":51,"logD":-8.82},{"k":71,"m":51,"logD":-8.54},{"k":72,"m":51,"logD":-8.23},{"k":73,"m":51,"logD":-7.90},{"k":74,"m":51,"logD":-7.55},{"k":75,"m":51,"logD":-7.18},{"k":76,"m":51,"logD":-6.78},{"k":77,"m":51,"logD":-6.37},{"k":78,"m":51,"logD":-5.95},{"k":79,"m":51,"logD":-5.50},{"k":0,"m":51,"logD":-5.04},{"k":1,"m":51,"logD":-4.57},{"k":2,"m":51,"logD":-4.08},{"k":3,"m":51,"logD":-3.58},{"k":4,"m":51,"logD":-3.07},{"k":5,"m":51,"logD":-2.55},{"k":6,"m":51,"logD":-2.02},{"k":7,"m":51,"logD":-1.48},{"k":8,"m":51,"logD":-0.94},{"k":9,"m":51,"logD":-0.39},{"k":10,"m":51,"logD":0.16},{"k":11,"m":51,"logD":0.72},{"k":12,"m":51,"logD":1.28},{"k":13,"m":51,"logD":1.83},{"k":14,"m":51,"logD":2.39},{"k":15,"m":51,"logD":2.94},{"k":16,"m":51,"logD":3.49},{"k":17,"m":51,"logD":4.03},{"k":18,"m":51,"logD":4.57},{"k":19,"m":51,"logD":5.10},{"k":20,"m":51,"logD":5.62},{"k":21,"m":51,"logD":6.13},{"k":22,"m":51,"logD":6.63},{"k":23,"m":51,"logD":7.12},{"k":24,"m":51,"logD":7.59},{"k":25,"m":51,"logD":8.05},{"k":26,"m":51,"logD":8.50},{"k":27,"m":51,"logD":8.92},{"k":28,"m":51,"logD":9.33},{"k":29,"m":51,"logD":9.73},{"k":30,"m":51,"logD":10.10},{"k":31,"m":51,"logD":10.45},{"k":32,"m":51,"logD":10.78},{"k":33,"m":51,"logD":11.09},{"k":34,"m":51,"logD":11.37},{"k":35,"m":51,"logD":11.63},{"k":36,"m":51,"logD":11.87},{"k":37,"m":51,"logD":12.09},{"k":38,"m":51,"logD":12.28},{"k":39,"m":51,"logD":12.44},{"k":40,"m":51,"logD":12.58},{"k":41,"m":51,"logD":12.69},{"k":42,"m":51,"logD":12.78},{"k":43,"m":51,"logD":12.84},{"k":44,"m":51,"logD":12.87},{"k":45,"m":51,"logD":12.88},{"k":46,"m":51,"logD":12.84},{"k":47,"m":51,"logD":12.66},{"k":48,"m":51,"logD":12.18},{"k":49,"m":51,"logD":11.00},{"k":50,"m":51,"logD":8.73},{"k":51,"m":51,"logD":5.24},{"k":52,"m":51,"logD":1.28},{"k":53,"m":51,"logD":-2.69},{"k":54,"m":51,"logD":-6.18},{"k":55,"m":51,"logD":-8.45},{"k":56,"m":51,"logD":-9.63},{"k":57,"m":51,"logD":-10.11},{"k":58,"m":51,"logD":-10.29},{"k":59,"m":51,"logD":-10.33},
{"k":58,"m":56,"logD":-9.24},{"k":59,"m":56,"logD":-9.21},{"k":60,"m":56,"logD":-9.15},{"k":61,"m":56,"logD":-9.07},{"k":62,"m":56,"logD":-8.96},{"k":63,"m":56,"logD":-8.82},{"k":64,"m":56,"logD":-8.66},{"k":65,"m":56,"logD":-8.48},{"k":66,"m":56,"logD":-8.26},{"k":67,"m":56,"logD":-8.03},{"k":68,"m":56,"logD":-7.77},{"k":69,"m":56,"logD":-7.49},{"k":70,"m":56,"logD":-7.19},{"k":71,"m":56,"logD":-6.86},{"k":72,"m":56,"logD":-6.52},{"k":73,"m":56,"logD":-6.16},{"k":74,"m":56,"logD":-5.77},{"k":75,"m":56,"logD":-5.37},{"k":76,"m":56,"logD":-4.95},{"k":77,"m":56,"logD":-4.51},{"k":78,"m":56,"logD":-4.06},{"k":79,"m":56,"logD":-3.59},{"k":0,"m":56,"logD":-3.11},{"k":1,"m":56,"logD":-2.62},{"k":2,"m":56,"logD":-2.12},{"k":3,"m":56,"logD":-1.61},{"k":4,"m":56,"logD":-1.09},{"k":5,"m":56,"logD":-0.56},{"k":6,"m":56,"logD":-0.03},{"k":7,"m":56,"logD":0.51},{"k":8,"m":56,"logD":1.06},{"k":9,"m":56,"logD":1.60},{"k":10,"m":56,"logD":2.15},{"k":11,"m":56,"logD":2.70},{"k":12,"m":56,"logD":3.24},{"k":13,"m":56,"logD":3.79},{"k":14,"m":56,"logD":4.33},{"k":15,"m":56,"logD":4.86},{"k":16,"m":56,"logD":5.39},{"k":17,"m":56,"logD":5.91},{"k":18,"m":56,"logD":6.42},{"k":19,"m":56,"logD":6.92},{"k":20,"m":56,"logD":7.41},{"k":21,"m":56,"logD":7.89},{"k":22,"m":56,"logD":8.36},{"k":23,"m":56,"logD":8.81},{"k":24,"m":56,"logD":9.25},{"k":25,"m":56,"logD":9.67},{"k":26,"m":56,"logD":10.07},{"k":27,"m":56,"logD":10.46},{"k":28,"m":56,"logD":10.82},{"k":29,"m":56,"logD":11.16},{"k":30,"m":56,"logD":11.49},{"k":31,"m":56,"logD":11.79},{"k":32,"m":56,"logD":12.07},{"k":33,"m":56,"logD":12.33},{"k":34,"m":56,"logD":12.56},{"k":35,"m":56,"logD":12.78},{"k":36,"m":56,"logD":12.96},{"k":37,"m":56,"logD":13.12},{"k":38,"m":56,"logD":13.26},{"k":39,"m":56,"logD":13.37},{"k":40,"m":56,"logD":13.45},{"k":41,"m":56,"logD":13.51},{"k":42,"m":56,"logD":13.54},{"k":43,"m":56,"logD":13.55},{"k":44,"m":56,"logD":13.51},{"k":45,"m":56,"logD":13.34},{"k":46,"m":56,"logD":12.86},{"k":47,"m":56,"logD":11.71},{"k":48,"m":56,"logD":9.48},{"k":49,"m":56,"logD":6.05},{"k":50,"m":56,"logD":2.15},{"k":51,"m":56,"logD":-1.75},{"k":52,"m":56,"logD":-5.18},{"k":53,"m":56,"logD":-7.41},{"k":54,"m":56,"logD":-8.56},{"k":55,"m":56,"logD":-9.04},{"k":56,"m":56,"logD":-9.21},{"k":57,"m":56,"logD":-9.25},
{"k":56,"m":61,"logD":-8.04},{"k":57,"m":61,"logD":-8.01},{"k":58,"m":61,"logD":-7.96},{"k":59,"m":61,"logD":-7.87},{"k":60,"m":61,"logD":-7.77},{"k":61,"m":61,"logD":-7.64},{"k":62,"m":61,"logD":-7.48},{"k":63,"m":61,"logD":-7.30},{"k":64,"m":61,"logD":-7.10},{"k":65,"m":61,"logD":-6.87},{"k":66,"m":61,"logD":-6.62},{"k":67,"m":61,"logD":-6.35},{"k":68,"m":61,"logD":-6.06},{"k":69,"m":61,"logD":-5.75},{"k":70,"m":61,"logD":-5.41},{"k":71,"m":61,"logD":-5.06},{"k":72,"m":61,"logD":-4.69},{"k":73,"m":61,"logD":-4.30},{"k":74,"m":61,"logD":-3.90},{"k":75,"m":61,"logD":-3.48},{"k":76,"m":61,"logD":-3.04},{"k":77,"m":61,"logD":-2.59},{"k":78,"m":61,"logD":-2.13},{"k":79,"m":61,"logD":-1.66},{"k":0,"m":61,"logD":-1.17},{"k":1,"m":61,"logD":-0.68},{"k":2,"m":61,"logD":-0.17},{"k":3,"m":61,"logD":0.34},{"k":4,"m":61,"logD":0.85},{"k":5,"m":61,"logD":1.37},{"k":6,"m":61,"logD":1.90},{"k":7,"m":61,"logD":2.42},{"k":8,"m":61,"logD":2.95},{"k":9,"m":61,"logD":3.48},{"k":10,"m":61,"logD":4.00},{"k":11,"m":61,"logD":4.53},{"k":12,"m":61,"logD":5.05},{"k":13,"m":61,"logD":5.57},{"k":14,"m":61,"logD":6.07},{"k":15,"m":61,"logD":6.58},{"k":16,"m":61,"logD":7.07},{"k":17,"m":61,"logD":7.56},{"k":18,"m":61,"logD":8.03},{"k":19,"m":61,"logD":8.49},{"k":20,"m":61,"logD":8.94},{"k":21,"m":61,"logD":9.38},{"k":22,"m":61,"logD":9.80},{"k":23,"m":61,"logD":10.20},{"k":24,"m":61,"logD":10.59},{"k":25,"m":61,"logD":10.96},{"k":26,"m":61,"logD":11.31},{"k":27,"m":61,"logD":11.65},{"k":28,"m":61,"logD":11.96},{"k":29,"m":61,"logD":12.25},{"k":30,"m":61,"logD":12.52},{"k":31,"m":61,"logD":12.77},{"k":32,"m":61,"logD":13.00},{"k":33,"m":61,"logD":13.20},{"k":34,"m":61,"logD":13.38},{"k":35,"m":61,"logD":13.54},{"k":36,"m":61,"logD":13.67},{"k":37,"m":61,"logD":13.77},{"k":38,"m":61,"logD":13.86},{"k":39,"m":61,"logD":13.91},{"k":40,"m":61,"logD":13.94},{"k":41,"m":61,"logD":13.95},{"k":42,"m":61,"logD":13.91},{"k":43,"m":61,"logD":13.75},{"k":44,"m":61,"logD":13.29},{"k":45,"m":61,"logD":12.18},{"k":46,"m":61,"logD":10.02},{"k":47,"m":61,"logD":6.71},{"k":48,"m":61,"logD":2.95},{"k":49,"m":61,"logD":-0.81},{"k":50,"m":61,"logD":-4.12},{"k":51,"m":61,"logD":-6.28},{"k":52,"m":61,"logD":-7.39},{"k":53,"m":61,"logD":-7.85},{"k":54,"m":61,"logD":-8.01},{"k":55,"m":61,"logD":-8.05},
{"k":54,"m":66,"logD":-6.97},{"k":55,"m":66,"logD":-6.94},{"k":56,"m":66,"logD":-6.89},{"k":57,"m":66,"logD":-6.81},{"k":58,"m":66,"logD":-6.71},{"k":59,"m":66,"logD":-6.58},{"k":60,"m":66,"logD":-6.43},{"k":61,"m":66,"logD":-6.26},{"k":62,"m":66,"logD":-6.07},{"k":63,"m":66,"logD":-5.85},{"k":64,"m":66,"logD":-5.61},{"k":65,"m":66,"logD":-5.36},{"k":66,"m":66,"logD":-5.08},{"k":67,"m":66,"logD":-4.78},{"k":68,"m":66,"logD":-4.46},{"k":69,"m":66,"logD":-4.12},{"k":70,"m":66,"logD":-3.77},{"k":71,"m":66,"logD":-3.40},{"k":72,"m":66,"logD":-3.01},{"k":73,"m":66,"logD":-2.61},{"k":74,"m":66,"logD":-2.19},{"k":75,"m":66,"logD":-1.77},{"k":76,"m":66,"logD":-1.32},{"k":77,"m":66,"logD":-0.87},{"k":78,"m":66,"logD":-0.41},{"k":79,"m":66,"logD":0.06},{"k":0,"m":66,"logD":0.54},{"k":1,"m":66,"logD":1.03},{"k":2,"m":66,"logD":1.52},{"k":3,"m":66,"logD":2.02},{"k":4,"m":66,"logD":2.52},{"k":5,"m":66,"logD":3.02},{"k":6,"m":66,"logD":3.53},{"k":7,"m":66,"logD":4.03},{"k":8,"m":66,"logD":4.53},{"k":9,"m":66,"logD":5.03},{"k":10,"m":66,"logD":5.53},{"k":11,"m":66,"logD":6.02},{"k":12,"m":66,"logD":6.51},{"k":13,"m":66,"logD":6.99},{"k":14,"m":66,"logD":7.46},{"k":15,"m":66,"logD":7.92},{"k":16,"m":66,"logD":8.37},{"k":17,"m":66,"logD":8.82},{"k":18,"m":66,"logD":9.24},{"k":19,"m":66,"logD":9.66},{"k":20,"m":66,"logD":10.06},{"k":21,"m":66,"logD":10.45},{"k":22,"m":66,"logD":10.82},{"k":23,"m":66,"logD":11.17},{"k":24,"m":66,"logD":11.51},{"k":25,"m":66,"logD":11.83},{"k":26,"m":66,"logD":12.13},{"k":27,"m":66,"logD":12.41},{"k":28,"m":66,"logD":12.66},{"k":29,"m":66,"logD":12.90},{"k":30,"m":66,"logD":13.12},{"k":31,"m":66,"logD":13.31},{"k":32,"m":66,"logD":13.48},{"k":33,"m":66,"logD":13.63},{"k":34,"m":66,"logD":13.76},{"k":35,"m":66,"logD":13.86},{"k":36,"m":66,"logD":13.94},{"k":37,"m":66,"logD":13.99},{"k":38,"m":66,"logD":14.02},{"k":39,"m":66,"logD":14.03},{"k":40,"m":66,"logD":13.99},{"k":41,"m":66,"logD":13.83},{"k":42,"m":66,"logD":13.39},{"k":43,"m":66,"logD":12.33},{"k":44,"m":66,"logD":10.27},{"k":45,"m":66,"logD":7.12},{"k":46,"m":66,"logD":3.53},{"k":47,"m":66,"logD":-0.07},{"k":48,"m":66,"logD":-3.22},{"k":49,"m":66,"logD":-5.28},{"k":50,"m":66,"logD":-6.34},{"k":51,"m":66,"logD":-6.78},{"k":52,"m":66,"logD":-6.94},{"k":53,"m":66,"logD":-6.98},
{"k":52,"m":71,"logD":-5.99},{"k":53,"m":71,"logD":-5.97},{"k":54,"m":71,"logD":-5.91},{"k":55,"m":71,"logD":-5.84},{"k":56,"m":71,"logD":-5.74},{"k":57,"m":71,"logD":-5.62},{"k":58,"m":71,"logD":-5.48},{"k":59,"m":71,"logD":-5.32},{"k":60,"m":71,"logD":-5.14},{"k":61,"m":71,"logD":-4.93},{"k":62,"m":71,"logD":-4.70},{"k":63,"m":71,"logD":-4.46},{"k":64,"m":71,"logD":-4.19},{"k":65,"m":71,"logD":-3.91},{"k":66,"m":71,"logD":-3.60},{"k":67,"m":71,"logD":-3.29},{"k":68,"m":71,"logD":-2.95},{"k":69,"m":71,"logD":-2.59},{"k":70,"m":71,"logD":-2.23},{"k":71,"m":71,"logD":-1.84},{"k":72,"m":71,"logD":-1.45},{"k":73,"m":71,"logD":-1.04},{"k":74,"m":71,"logD":-0.62},{"k":75,"m":71,"logD":-0.19},{"k":76,"m":71,"logD":0.25},{"k":77,"m":71,"logD":0.70},{"k":78,"m":71,"logD":1.16},{"k":79,"m":71,"logD":1.62},{"k":0,"m":71,"logD":2.09},{"k":1,"m":71,"logD":2.57},{"k":2,"m":71,"logD":3.04},{"k":3,"m":71,"logD":3.52},{"k":4,"m":71,"logD":4.00},{"k":5,"m":71,"logD":4.48},{"k":6,"m":71,"logD":4.96},{"k":7,"m":71,"logD":5.44},{"k":8,"m":71,"logD":5.91},{"k":9,"m":71,"logD":6.38},{"k":10,"m":71,"logD":6.84},{"k":11,"m":71,"logD":7.30},{"k":12,"m":71,"logD":7.75},{"k":13,"m":71,"logD":8.19},{"k":14,"m":71,"logD":8.62},{"k":15,"m":71,"logD":9.04},{"k":16,"m":71,"logD":9.45},{"k":17,"m":71,"logD":9.84},{"k":18,"m":71,"logD":10.23},{"k":19,"m":71,"logD":10.59},{"k":20,"m":71,"logD":10.95},{"k":21,"m":71,"logD":11.29},{"k":22,"m":71,"logD":11.60},{"k":23,"m":71,"logD":11.91},{"k":24,"m":71,"logD":12.19},{"k":25,"m":71,"logD":12.46},{"k":26,"m":71,"logD":12.70},{"k":27,"m":71,"logD":12.93},{"k":28,"m":71,"logD":13.14},{"k":29,"m":71,"logD":13.32},{"k":30,"m":71,"logD":13.48},{"k":31,"m":71,"logD":13.62},{"k":32,"m":71,"logD":13.74},{"k":33,"m":71,"logD":13.84},{"k":34,"m":71,"logD":13.91},{"k":35,"m":71,"logD":13.97},{"k":36,"m":71,"logD":13.99},{"k":37,"m":71,"logD":14.00},{"k":38,"m":71,"logD":13.97},{"k":39,"m":71,"logD":13.82},{"k":40,"m":71,"logD":13.40},{"k":41,"m":71,"logD":12.39},{"k":42,"m":71,"logD":10.43},{"k":43,"m":71,"logD":7.42},{"k":44,"m":71,"logD":4.00},{"k":45,"m":71,"logD":0.58},{"k":46,"m":71,"logD":-2.43},{"k":47,"m":71,"logD":-4.39},{"k":48,"m":71,"logD":-5.40},{"k":49,"m":71,"logD":-5.82},{"k":50,"m":71,"logD":-5.97},{"k":51,"m":71,"logD":-6.00},
{"k":50,"m":76,"logD":-4.82},{"k":51,"m":76,"logD":-4.79},{"k":52,"m":76,"logD":-4.75},{"k":53,"m":76,"logD":-4.68},{"k":54,"m":76,"logD":-4.59},{"k":55,"m":76,"logD":-4.48},{"k":56,"m":76,"logD":-4.35},{"k":57,"m":76,"logD":-4.20},{"k":58,"m":76,"logD":-4.03},{"k":59,"m":76,"logD":-3.84},{"k":60,"m":76,"logD":-3.63},{"k":61,"m":76,"logD":-3.41},{"k":62,"m":76,"logD":-3.16},{"k":63,"m":76,"logD":-2.90},{"k":64,"m":76,"logD":-2.62},{"k":65,"m":76,"logD":-2.33},{"k":66,"m":76,"logD":-2.02},{"k":67,"m":76,"logD":-1.69},{"k":68,"m":76,"logD":-1.35},{"k":69,"m":76,"logD":-1.00},{"k":70,"m":76,"logD":-0.64},{"k":71,"m":76,"logD":-0.26},{"k":72,"m":76,"logD":0.13},{"k":73,"m":76,"logD":0.52},{"k":74,"m":76,"logD":0.93},{"k":75,"m":76,"logD":1.34},{"k":76,"m":76,"logD":1.76},{"k":77,"m":76,"logD":2.19},{"k":78,"m":76,"logD":2.62},{"k":79,"m":76,"logD":3.06},{"k":0,"m":76,"logD":3.49},{"k":1,"m":76,"logD":3.93},{"k":2,"m":76,"logD":4.38},{"k":3,"m":76,"logD":4.82},{"k":4,"m":76,"logD":5.26},{"k":5,"m":76,"logD":5.70},{"k":6,"m":76,"logD":6.13},{"k":7,"m":76,"logD":6.56},{"k":8,"m":76,"logD":6.99},{"k":9,"m":76,"logD":7.41},{"k":10,"m":76,"logD":7.82},{"k":11,"m":76,"logD":8.23},{"k":12,"m":76,"logD":8.62},{"k":13,"m":76,"logD":9.01},{"k":14,"m":76,"logD":9.39},{"k":15,"m":76,"logD":9.75},{"k":16,"m":76,"logD":10.10},{"k":17,"m":76,"logD":10.44},{"k":18,"m":76,"logD":10.77},{"k":19,"m":76,"logD":11.08},{"k":20,"m":76,"logD":11.37},{"k":21,"m":76,"logD":11.65},{"k":22,"m":76,"logD":11.91},{"k":23,"m":76,"logD":12.16},{"k":24,"m":76,"logD":12.38},{"k":25,"m":76,"logD":12.59},{"k":26,"m":76,"logD":12.78},{"k":27,"m":76,"logD":12.95},{"k":28,"m":76,"logD":13.10},{"k":29,"m":76,"logD":13.23},{"k":30,"m":76,"logD":13.34},{"k":31,"m":76,"logD":13.43},{"k":32,"m":76,"logD":13.50},{"k":33,"m":76,"logD":13.54},{"k":34,"m":76,"logD":13.57},{"k":35,"m":76,"logD":13.58},{"k":36,"m":76,"logD":13.54},{"k":37,"m":76,"logD":13.41},{"k":38,"m":76,"logD":13.02},{"k":39,"m":76,"logD":12.09},{"k":40,"m":76,"logD":10.29},{"k":41,"m":76,"logD":7.52},{"k":42,"m":76,"logD":4.38},{"k":43,"m":76,"logD":1.23},{"k":44,"m":76,"logD":-1.54},{"k":45,"m":76,"logD":-3.34},{"k":46,"m":76,"logD":-4.27},{"k":47,"m":76,"logD":-4.66},{"k":48,"m":76,"logD":-4.79},{"k":49,"m":76,"logD":-4.83},
{"k":48,"m":81,"logD":-3.40},{"k":49,"m":81,"logD":-3.37},{"k":50,"m":81,"logD":-3.33},{"k":51,"m":81,"logD":-3.27},{"k":52,"m":81,"logD":-3.20},{"k":53,"m":81,"logD":-3.10},{"k":54,"m":81,"logD":-2.99},{"k":55,"m":81,"logD":-2.86},{"k":56,"m":81,"logD":-2.71},{"k":57,"m":81,"logD":-2.54},{"k":58,"m":81,"logD":-2.36},{"k":59,"m":81,"logD":-2.17},{"k":60,"m":81,"logD":-1.95},{"k":61,"m":81,"logD":-1.73},{"k":62,"m":81,"logD":-1.48},{"k":63,"m":81,"logD":-1.23},{"k":64,"m":81,"logD":-0.96},{"k":65,"m":81,"logD":-0.67},{"k":66,"m":81,"logD":-0.38},{"k":67,"m":81,"logD":-0.07},{"k":68,"m":81,"logD":0.24},{"k":69,"m":81,"logD":0.57},{"k":70,"m":81,"logD":0.91},{"k":71,"m":81,"logD":1.25},{"k":72,"m":81,"logD":1.60},{"k":73,"m":81,"logD":1.96},{"k":74,"m":81,"logD":2.33},{"k":75,"m":81,"logD":2.70},{"k":76,"m":81,"logD":3.07},{"k":77,"m":81,"logD":3.45},{"k":78,"m":81,"logD":3.83},{"k":79,"m":81,"logD":4.22},{"k":0,"m":81,"logD":4.60},{"k":1,"m":81,"logD":4.98},{"k":2,"m":81,"logD":5.37},{"k":3,"m":81,"logD":5.75},{"k":4,"m":81,"logD":6.13},{"k":5,"m":81,"logD":6.50},{"k":6,"m":81,"logD":6.87},{"k":7,"m":81,"logD":7.24},{"k":8,"m":81,"logD":7.60},{"k":9,"m":81,"logD":7.95},{"k":10,"m":81,"logD":8.29},{"k":11,"m":81,"logD":8.63},{"k":12,"m":81,"logD":8.96},{"k":13,"m":81,"logD":9.27},{"k":14,"m":81,"logD":9.58},{"k":15,"m":81,"logD":9.87},{"k":16,"m":81,"logD":10.16},{"k":17,"m":81,"logD":10.43},{"k":18,"m":81,"logD":10.68},{"k":19,"m":81,"logD":10.93},{"k":20,"m":81,"logD":11.15},{"k":21,"m":81,"logD":11.37},{"k":22,"m":81,"logD":11.56},{"k":23,"m":81,"logD":11.74},{"k":24,"m":81,"logD":11.91},{"k":25,"m":81,"logD":12.06},{"k":26,"m":81,"logD":12.19},{"k":27,"m":81,"logD":12.30},{"k":28,"m":81,"logD":12.40},{"k":29,"m":81,"logD":12.47},{"k":30,"m":81,"logD":12.53},{"k":31,"m":81,"logD":12.57},{"k":32,"m":81,"logD":12.60},{"k":33,"m":81,"logD":12.60},{"k":34,"m":81,"logD":12.57},{"k":35,"m":81,"logD":12.45},{"k":36,"m":81,"logD":12.12},{"k":37,"m":81,"logD":11.31},{"k":38,"m":81,"logD":9.74},{"k":39,"m":81,"logD":7.34},{"k":40,"m":81,"logD":4.60},{"k":41,"m":81,"logD":1.86},{"k":42,"m":81,"logD":-0.54},{"k":43,"m":81,"logD":-2.11},{"k":44,"m":81,"logD":-2.92},{"k":45,"m":81,"logD":-3.25},{"k":46,"m":81,"logD":-3.37},{"k":47,"m":81,"logD":-3.40},
{"k":46,"m":86,"logD":-2.05},{"k":47,"m":86,"logD":-2.03},{"k":48,"m":86,"logD":-1.99},{"k":49,"m":86,"logD":-1.94},{"k":50,"m":86,"logD":-1.88},{"k":51,"m":86,"logD":-1.80},{"k":52,"m":86,"logD":-1.71},{"k":53,"m":86,"logD":-1.60},{"k":54,"m":86,"logD":-1.48},{"k":55,"m":86,"logD":-1.34},{"k":56,"m":86,"logD":-1.20},{"k":57,"m":86,"logD":-1.03},{"k":58,"m":86,"logD":-0.86},{"k":59,"m":86,"logD":-0.67},{"k":60,"m":86,"logD":-0.47},{"k":61,"m":86,"logD":-0.26},{"k":62,"m":86,"logD":-0.04},{"k":63,"m":86,"logD":0.20},{"k":64,"m":86,"logD":0.44},{"k":65,"m":86,"logD":0.69},{"k":66,"m":86,"logD":0.96},{"k":67,"m":86,"logD":1.23},{"k":68,"m":86,"logD":1.50},{"k":69,"m":86,"logD":1.79},{"k":70,"m":86,"logD":2.08},{"k":71,"m":86,"logD":2.37},{"k":72,"m":86,"logD":2.68},{"k":73,"m":86,"logD":2.98},{"k":74,"m":86,"logD":3.29},{"k":75,"m":86,"logD":3.60},{"k":76,"m":86,"logD":3.92},{"k":77,"m":86,"logD":4.23},{"k":78,"m":86,"logD":4.55},{"k":79,"m":86,"logD":4.87},{"k":0,"m":86,"logD":5.18},{"k":1,"m":86,"logD":5.50},{"k":2,"m":86,"logD":5.81},{"k":3,"m":86,"logD":6.12},{"k":4,"m":86,"logD":6.42},{"k":5,"m":86,"logD":6.73},{"k":6,"m":86,"logD":7.02},{"k":7,"m":86,"logD":7.31},{"k":8,"m":86,"logD":7.60},{"k":9,"m":86,"logD":7.88},{"k":10,"m":86,"logD":8.14},{"k":11,"m":86,"logD":8.41},{"k":12,"m":86,"logD":8.66},{"k":13,"m":86,"logD":8.90},{"k":14,"m":86,"logD":9.14},{"k":15,"m":86,"logD":9.36},{"k":16,"m":86,"logD":9.57},{"k":17,"m":86,"logD":9.77},{"k":18,"m":86,"logD":9.96},{"k":19,"m":86,"logD":10.13},{"k":20,"m":86,"logD":10.30},{"k":21,"m":86,"logD":10.44},{"k":22,"m":86,"logD":10.58},{"k":23,"m":86,"logD":10.70},{"k":24,"m":86,"logD":10.81},{"k":25,"m":86,"logD":10.90},{"k":26,"m":86,"logD":10.98},{"k":27,"m":86,"logD":11.04},{"k":28,"m":86,"logD":11.09},{"k":29,"m":86,"logD":11.13},{"k":30,"m":86,"logD":11.15},{"k":31,"m":86,"logD":11.15},{"k":32,"m":86,"logD":11.13},{"k":33,"m":86,"logD":11.03},{"k":34,"m":86,"logD":10.75},{"k":35,"m":86,"logD":10.09},{"k":36,"m":86,"logD":8.79},{"k":37,"m":86,"logD":6.81},{"k":38,"m":86,"logD":4.55},{"k":39,"m":86,"logD":2.29},{"k":40,"m":86,"logD":0.31},{"k":41,"m":86,"logD":-0.99},{"k":42,"m":86,"logD":-1.65},{"k":43,"m":86,"logD":-1.93},{"k":44,"m":86,"logD":-2.03},{"k":45,"m":86,"logD":-2.05},
{"k":44,"m":91,"logD":-0.77},{"k":45,"m":91,"logD":-0.76},{"k":46,"m":91,"logD":-0.74},{"k":47,"m":91,"logD":-0.70},{"k":48,"m":91,"logD":-0.66},{"k":49,"m":91,"logD":-0.60},{"k":50,"m":91,"logD":-0.54},{"k":51,"m":91,"logD":-0.46},{"k":52,"m":91,"logD":-0.38},{"k":53,"m":91,"logD":-0.28},{"k":54,"m":91,"logD":-0.18},{"k":55,"m":91,"logD":-0.07},{"k":56,"m":91,"logD":0.06},{"k":57,"m":91,"logD":0.19},{"k":58,"m":91,"logD":0.33},{"k":59,"m":91,"logD":0.47},{"k":60,"m":91,"logD":0.63},{"k":61,"m":91,"logD":0.79},{"k":62,"m":91,"logD":0.96},{"k":63,"m":91,"logD":1.14},{"k":64,"m":91,"logD":1.32},{"k":65,"m":91,"logD":1.51},{"k":66,"m":91,"logD":1.70},{"k":67,"m":91,"logD":1.90},{"k":68,"m":91,"logD":2.10},{"k":69,"m":91,"logD":2.31},{"k":70,"m":91,"logD":2.52},{"k":71,"m":91,"logD":2.73},{"k":72,"m":91,"logD":2.95},{"k":73,"m":91,"logD":3.17},{"k":74,"m":91,"logD":3.38},{"k":75,"m":91,"logD":3.60},{"k":76,"m":91,"logD":3.83},{"k":77,"m":91,"logD":4.05},{"k":78,"m":91,"logD":4.27},{"k":79,"m":91,"logD":4.49},{"k":0,"m":91,"logD":4.70},{"k":1,"m":91,"logD":4.92},{"k":2,"m":91,"logD":5.13},{"k":3,"m":91,"logD":5.34},{"k":4,"m":91,"logD":5.55},{"k":5,"m":91,"logD":5.75},{"k":6,"m":91,"logD":5.95},{"k":7,"m":91,"logD":6.14},{"k":8,"m":91,"logD":6.33},{"k":9,"m":91,"logD":6.51},{"k":10,"m":91,"logD":6.69},{"k":11,"m":91,"logD":6.86},{"k":12,"m":91,"logD":7.02},{"k":13,"m":91,"logD":7.18},{"k":14,"m":91,"logD":7.32},{"k":15,"m":91,"logD":7.46},{"k":16,"m":91,"logD":7.59},{"k":17,"m":91,"logD":7.72},{"k":18,"m":91,"logD":7.83},{"k":19,"m":91,"logD":7.93},{"k":20,"m":91,"logD":8.03},{"k":21,"m":91,"logD":8.11},{"k":22,"m":91,"logD":8.19},{"k":23,"m":91,"logD":8.25},{"k":24,"m":91,"logD":8.31},{"k":25,"m":91,"logD":8.35},{"k":26,"m":91,"logD":8.39},{"k":27,"m":91,"logD":8.41},{"k":28,"m":91,"logD":8.42},{"k":29,"m":91,"logD":8.43},{"k":30,"m":91,"logD":8.41},{"k":31,"m":91,"logD":8.34},{"k":32,"m":91,"logD":8.15},{"k":33,"m":91,"logD":7.68},{"k":34,"m":91,"logD":6.78},{"k":35,"m":91,"logD":5.40},{"k":36,"m":91,"logD":3.83},{"k":37,"m":91,"logD":2.25},{"k":38,"m":91,"logD":0.87},{"k":39,"m":91,"logD":-0.03},{"k":40,"m":91,"logD":-0.50},{"k":41,"m":91,"logD":-0.69},{"k":42,"m":91,"logD":-0.76},{"k":43,"m":91,"logD":-0.78},
{"k":42,"m":96,"logD":1.20},{"k":43,"m":96,"logD":1.20},{"k":44,"m":96,"logD":1.21},{"k":45,"m":96,"logD":1.22},{"k":46,"m":96,"logD":1.23},{"k":47,"m":96,"logD":1.25},{"k":48,"m":96,"logD":1.27},{"k":49,"m":96,"logD":1.29},{"k":50,"m":96,"logD":1.31},{"k":51,"m":96,"logD":1.33},{"k":52,"m":96,"logD":1.36},{"k":53,"m":96,"logD":1.39},{"k":54,"m":96,"logD":1.43},{"k":55,"m":96,"logD":1.46},{"k":56,"m":96,"logD":1.50},{"k":57,"m":96,"logD":1.54},{"k":58,"m":96,"logD":1.58},{"k":59,"m":96,"logD":1.63},{"k":60,"m":96,"logD":1.67},{"k":61,"m":96,"logD":1.72},{"k":62,"m":96,"logD":1.77},{"k":63,"m":96,"logD":1.82},{"k":64,"m":96,"logD":1.87},{"k":65,"m":96,"logD":1.93},{"k":66,"m":96,"logD":1.98},{"k":67,"m":96,"logD":2.04},{"k":68,"m":96,"logD":2.10},{"k":69,"m":96,"logD":2.15},{"k":70,"m":96,"logD":2.21},{"k":71,"m":96,"logD":2.27},{"k":72,"m":96,"logD":2.33},{"k":73,"m":96,"logD":2.39},{"k":74,"m":96,"logD":2.45},{"k":75,"m":96,"logD":2.51},{"k":76,"m":96,"logD":2.57},{"k":77,"m":96,"logD":2.63},{"k":78,"m":96,"logD":2.69},{"k":79,"m":96,"logD":2.75},{"k":0,"m":96,"logD":2.81},{"k":1,"m":96,"logD":2.86},{"k":2,"m":96,"logD":2.92},{"k":3,"m":96,"logD":2.97},{"k":4,"m":96,"logD":3.03},{"k":5,"m":96,"logD":3.08},{"k":6,"m":96,"logD":3.13},{"k":7,"m":96,"logD":3.18},{"k":8,"m":96,"logD":3.23},{"k":9,"m":96,"logD":3.27},{"k":10,"m":96,"logD":3.32},{"k":11,"m":96,"logD":3.36},{"k":12,"m":96,"logD":3.40},{"k":13,"m":96,"logD":3.44},{"k":14,"m":96,"logD":3.47},{"k":15,"m":96,"logD":3.51},{"k":16,"m":96,"logD":3.54},{"k":17,"m":96,"logD":3.57},{"k":18,"m":96,"logD":3.59},{"k":19,"m":96,"logD":3.62},{"k":20,"m":96,"logD":3.64},{"k":21,"m":96,"logD":3.65},{"k":22,"m":96,"logD":3.67},{"k":23,"m":96,"logD":3.68},{"k":24,"m":96,"logD":3.69},{"k":25,"m":96,"logD":3.70},{"k":26,"m":96,"logD":3.70},{"k":27,"m":96,"logD":3.70},{"k":28,"m":96,"logD":3.70},{"k":29,"m":96,"logD":3.68},{"k":30,"m":96,"logD":3.63},{"k":31,"m":96,"logD":3.50},{"k":32,"m":96,"logD":3.25},{"k":33,"m":96,"logD":2.88},{"k":34,"m":96,"logD":2.45},{"k":35,"m":96,"logD":2.02},{"k":36,"m":96,"logD":1.65},{"k":37,"m":96,"logD":1.40},{"k":38,"m":96,"logD":1.28},{"k":39,"m":96,"logD":1.22},{"k":40,"m":96,"logD":1.20},{"k":41,"m":96,"logD":1.20},
{"k":0,"m":97.667,"logD":1.9},{"k":1,"m":97.667,"logD":1.9},{"k":2,"m":97.667,"logD":1.9},{"k":3,"m":97.667,"logD":1.9},{"k":4,"m":97.667,"logD":1.9},{"k":5,"m":97.667,"logD":1.9},{"k":6,"m":97.667,"logD":1.9},{"k":7,"m":97.667,"logD":1.9},{"k":8,"m":97.667,"logD":1.9},{"k":9,"m":97.667,"logD":1.9},{"k":10,"m":97.667,"logD":1.9},{"k":11,"m":97.667,"logD":1.9},{"k":12,"m":97.667,"logD":1.9},{"k":13,"m":97.667,"logD":1.9},{"k":14,"m":97.667,"logD":1.9},{"k":15,"m":97.667,"logD":1.9},{"k":16,"m":97.667,"logD":1.9},{"k":17,"m":97.667,"logD":1.9},{"k":18,"m":97.667,"logD":1.9},{"k":19,"m":97.667,"logD":1.9},{"k":20,"m":97.667,"logD":1.9},{"k":21,"m":97.667,"logD":1.9},{"k":22,"m":97.667,"logD":1.9},{"k":23,"m":97.667,"logD":1.9},{"k":24,"m":97.667,"logD":1.9},{"k":25,"m":97.667,"logD":1.9},{"k":26,"m":97.667,"logD":1.9},{"k":27,"m":97.667,"logD":1.9},{"k":28,"m":97.667,"logD":1.9},{"k":29,"m":97.667,"logD":1.9},{"k":30,"m":97.667,"logD":1.9},{"k":31,"m":97.667,"logD":1.9},{"k":32,"m":97.667,"logD":1.9},{"k":33,"m":97.667,"logD":1.9},{"k":34,"m":97.667,"logD":1.9},{"k":35,"m":97.667,"logD":1.9},{"k":36,"m":97.667,"logD":1.9},{"k":37,"m":97.667,"logD":1.9},{"k":38,"m":97.667,"logD":1.9},{"k":39,"m":97.667,"logD":1.9},{"k":40,"m":97.667,"logD":1.9},{"k":41,"m":97.667,"logD":1.9},{"k":42,"m":97.667,"logD":1.9},{"k":43,"m":97.667,"logD":1.9},{"k":44,"m":97.667,"logD":1.9},{"k":45,"m":97.667,"logD":1.9},{"k":46,"m":97.667,"logD":1.9},{"k":47,"m":97.667,"logD":1.9},{"k":48,"m":97.667,"logD":1.9},{"k":49,"m":97.667,"logD":1.9},{"k":50,"m":97.667,"logD":1.9},{"k":51,"m":97.667,"logD":1.9},{"k":52,"m":97.667,"logD":1.9},{"k":53,"m":97.667,"logD":1.9},{"k":54,"m":97.667,"logD":1.9},{"k":55,"m":97.667,"logD":1.9},{"k":56,"m":97.667,"logD":1.9},{"k":57,"m":97.667,"logD":1.9},{"k":58,"m":97.667,"logD":1.9},{"k":59,"m":97.667,"logD":1.9},{"k":60,"m":97.667,"logD":1.9},{"k":61,"m":97.667,"logD":1.9},{"k":62,"m":97.667,"logD":1.9},{"k":63,"m":97.667,"logD":1.9},{"k":64,"m":97.667,"logD":1.9},{"k":65,"m":97.667,"logD":1.9},{"k":66,"m":97.667,"logD":1.9},{"k":67,"m":97.667,"logD":1.9},{"k":68,"m":97.667,"logD":1.9},{"k":69,"m":97.667,"logD":1.9},{"k":70,"m":97.667,"logD":1.9},{"k":71,"m":97.667,"logD":1.9},{"k":72,"m":97.667,"logD":1.9},{"k":73,"m":97.667,"logD":1.9},{"k":74,"m":97.667,"logD":1.9},{"k":75,"m":97.667,"logD":1.9},{"k":76,"m":97.667,"logD":1.9},{"k":77,"m":97.667,"logD":1.9},{"k":78,"m":97.667,"logD":1.9},{"k":79,"m":97.667,"logD":1.9}
]},
"mark": {"type": "line", "strokeWidth": 1.5, "interpolate": "basis", "clip": true},
"encoding": {
"x": {"field": "m", "type": "quantitative", "scale": {"domain": [1, 97.6], "nice": false, "zero": false},
"axis": {"orient": "bottom", "values": [10,20,30,40,50,60,70,80,90], "format": "d", "labelFontSize": 24, "labelColor": "#262626", "labelPadding": 29, "tickSize": -9, "tickWidth": 1.5, "tickColor": "#262626", "domainColor": "#262626", "domainWidth": 1.5, "grid": true, "gridColor": "#dcdcdc", "gridWidth": 1.2, "title": "m", "titleFontSize": 27, "titleFontWeight": "normal", "titleColor": "#262626", "titleBaseline": "alphabetic", "titleY": 75}},
"y": {"field": "logD", "type": "quantitative", "scale": {"domain": [-15, 15], "nice": false, "zero": false},
"axis": {"orient": "left", "values": [-15,-10,-5,0,5,10,15], "labelExpr": "'10'", "labelFontSize": 22, "labelColor": "#262626", "labelAlign": "right", "labelBaseline": "middle", "labelOffset": 6,
"labelPadding": {"condition": [{"test": "datum.value >= 10", "value": 40}, {"test": "datum.value >= 0", "value": 30}, {"test": "datum.value == -5", "value": 36}], "value": 46},
"tickSize": -9, "tickWidth": 1.5, "tickColor": "#262626", "domainColor": "#262626", "domainWidth": 1.5, "grid": true, "gridColor": "#dcdcdc", "gridWidth": 1.2,
"title": "|Dₖ(m)|", "titleFontSize": 27, "titleFontWeight": "normal", "titleColor": "#262626", "titleX": -107, "titleY": 342, "titleAngle": -90, "titleAlign": "center", "titleBaseline": "middle"}},
"color": {"field": "k", "type": "nominal", "scale": {"range": ["#0072BD", "#A2142F", "#4DBEEE", "#77AC30", "#7E2F8E", "#EDB120", "#D95319"]}, "legend": null},
"order": {"field": "m", "type": "quantitative"}
}
},
{
"data": {"values": [{"m": 1, "logD": 0}]},
"mark": {"type": "point", "opacity": 0},
"encoding": {
"x": {"field": "m", "type": "quantitative", "scale": {"domain": [1, 97.6], "nice": false, "zero": false},
"axis": {"orient": "top", "values": [10,20,30,40,50,60,70,80,90], "labels": false, "tickSize": -9, "tickWidth": 1.5, "tickColor": "#262626", "domainColor": "#262626", "domainWidth": 1.5, "grid": false,
"title": "Dₖ(m) abszolút értékének alakulása a kiértékelés során", "titleFont": "Liberation Sans", "titleFontSize": 30, "titleFontWeight": "bold", "titleColor": "#000000", "titleX": 432.5, "titleY": -27, "titleAlign": "center", "titleBaseline": "alphabetic"}},
"y": {"field": "logD", "type": "quantitative", "scale": {"domain": [-15, 15], "nice": false, "zero": false},
"axis": {"orient": "left", "values": [-15,-10,-5,0,5,10,15], "labelExpr": "(datum.value < 0 ? '-' : '') + abs(datum.value)", "labelFontSize": 18, "labelColor": "#262626", "labelAlign": "right", "labelBaseline": "middle", "labelOffset": -4, "labelPadding": 11, "ticks": false, "tickSize": 0, "domain": false, "grid": false, "title": null}}
}
}
],
"resolve": {"axis": {"x": "independent", "y": "independent"}}
}
